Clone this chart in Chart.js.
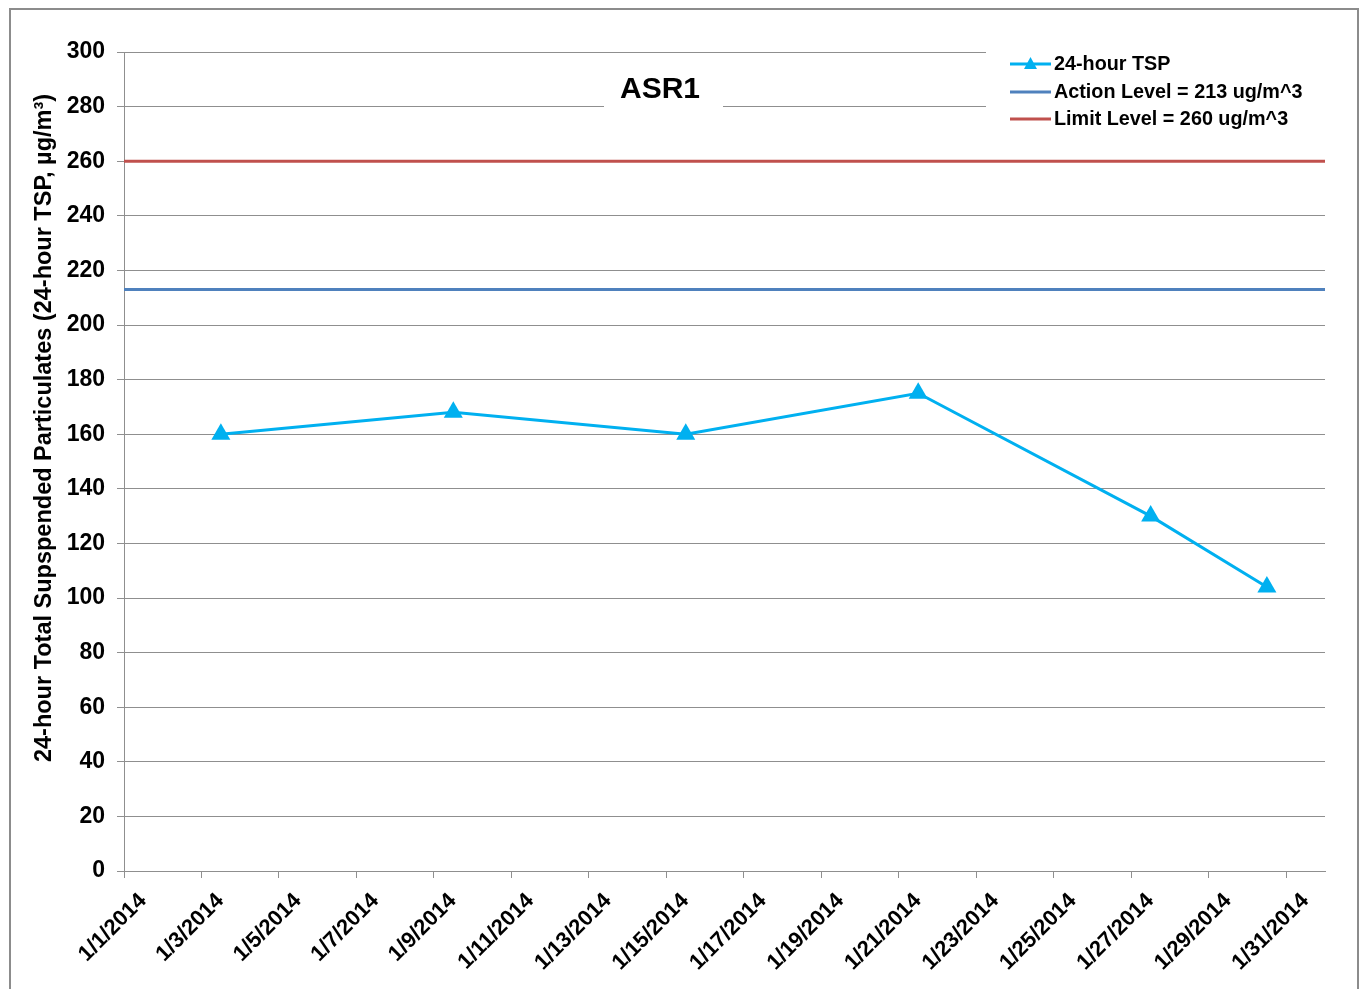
<!DOCTYPE html>
<html>
<head>
<meta charset="utf-8">
<script src="https://cdn.jsdelivr.net/npm/chart.js@4.4.1/dist/chart.umd.min.js"></script>
<style>
  html, body { margin: 0; padding: 0; background: #fff; }
  #frame { position: absolute; left: 9px; top: 8px; width: 1350px; height: 1000px; border: 2px solid #8c8c8c; box-sizing: border-box; }
  #wrap { position: absolute; left: 0; top: 0; width: 1359px; height: 989px; }
</style>
</head>
<body>
<div id="frame"></div>
<div id="wrap"><canvas id="c" width="1359" height="989"></canvas></div>
<script>
// Days since 1/1/2014 (0 = 1/1/2014 00:00)
const sampleDays = [2.5, 8.5, 14.5, 20.5, 26.5, 29.5];
const tspValues = [160, 168, 160, 175, 130, 104];
const actionLevel = 213;
const limitLevel = 260;
const xRange = [0, 31];
const yTicks = [0, 20, 40, 60, 80, 100, 120, 140, 160, 180, 200, 220, 240, 260, 280, 300];
const seriesNames = ['24-hour TSP', 'Action Level = 213 ug/m^3', 'Limit Level = 260 ug/m^3'];
const chartTitle = 'ASR1';
const yTitle = '24-hour Total Supspended Particulates (24-hour TSP, µg/m³)';

const FONT = "'Liberation Sans', Arial, sans-serif";
const C_TSP = '#00B0F0', C_ACT = '#4F81BD', C_LIM = '#C0504D', C_GRID = '#8f8f8f';

function dayLabel(v) { return '1/' + (Math.round(v) + 1) + '/2014'; }

const overlay = {
  id: 'overlay',
  beforeDatasetsDraw(chart) {
    const ctx = chart.ctx, a = chart.chartArea;
    ctx.save();
    // y axis title
    ctx.save();
    ctx.translate(45, 428);
    ctx.rotate(-Math.PI / 2);
    ctx.fillStyle = '#000';
    ctx.font = 'bold 23.5px ' + FONT;
    ctx.textAlign = 'center';
    ctx.textBaseline = 'middle';
    ctx.fillText(yTitle, 0, 0);
    ctx.restore();
    // title box
    ctx.fillStyle = '#fff';
    ctx.fillRect(604, 70, 119, 44);
    ctx.fillStyle = '#000';
    ctx.font = 'bold 30px ' + FONT;
    ctx.textAlign = 'center';
    ctx.textBaseline = 'middle';
    ctx.fillText(chartTitle, 660, 90);
    // legend box
    ctx.fillStyle = '#fff';
    ctx.fillRect(986, a.top - 6, a.right - 986 + 1, 90);
    const colors = [C_TSP, C_ACT, C_LIM];
    const ys = [64, 92, 119];
    ctx.font = 'bold 19.8px ' + FONT;
    ctx.textAlign = 'left';
    for (let i = 0; i < 3; i++) {
      ctx.strokeStyle = colors[i];
      ctx.lineWidth = 3;
      ctx.beginPath();
      ctx.moveTo(1010, ys[i]);
      ctx.lineTo(1051, ys[i]);
      ctx.stroke();
      if (i === 0) {
        ctx.fillStyle = C_TSP;
        ctx.beginPath();
        ctx.moveTo(1030.5, ys[i] - 7);
        ctx.lineTo(1037, ys[i] + 5);
        ctx.lineTo(1024, ys[i] + 5);
        ctx.closePath();
        ctx.fill();
      }
      ctx.fillStyle = '#000';
      ctx.fillText(seriesNames[i], 1054, ys[i] + 1);
    }
    ctx.restore();
  }
};

new Chart(document.getElementById('c'), {
  type: 'line',
  data: {
    datasets: [
      {
        label: seriesNames[0],
        data: sampleDays.map((d, i) => ({ x: d, y: tspValues[i] })),
        borderColor: C_TSP, backgroundColor: C_TSP,
        borderWidth: 3, pointStyle: 'triangle', pointRadius: 11,
        pointBorderWidth: 0, tension: 0, order: 0
      },
      {
        label: seriesNames[1],
        data: xRange.map(d => ({ x: d, y: actionLevel })),
        borderColor: C_ACT, borderWidth: 3, pointRadius: 0, order: 1
      },
      {
        label: seriesNames[2],
        data: xRange.map(d => ({ x: d, y: limitLevel })),
        borderColor: C_LIM, borderWidth: 3, pointRadius: 0, order: 2
      }
    ]
  },
  options: {
    responsive: false,
    animation: false,
    layout: { padding: { left: 20, right: 34, top: 52, bottom: 0 } },
    plugins: { legend: { display: false }, tooltip: { enabled: false }, title: { display: false } },
    scales: {
      x: {
        type: 'linear',
        min: xRange[0], max: xRange[1],
        afterFit: s => { s.height = 118; },
        border: { display: true, color: C_GRID, width: 1 },
        grid: { drawOnChartArea: false, drawTicks: true, tickLength: 7, color: C_GRID },
        ticks: {
          stepSize: 2, includeBounds: false, autoSkip: false,
          maxRotation: 45, minRotation: 45,
          labelOffset: 19, padding: 10,
          color: '#000', font: { family: FONT, size: 22, weight: 'bold' },
          callback: v => dayLabel(v)
        }
      },
      y: {
        min: 0, max: 300,
        afterFit: s => { s.width = 104; },
        afterBuildTicks: s => { s.ticks = yTicks.map(v => ({ value: v })); },
        border: { display: true, color: C_GRID, width: 1 },
        grid: { color: C_GRID, lineWidth: 1, tickLength: 7 },
        ticks: {
          padding: 12, color: '#000',
          font: { family: FONT, size: 23, weight: 'bold' }
        },
        title: { display: false }
      }
    }
  },
  plugins: [overlay]
});
</script>
</body>
</html>
